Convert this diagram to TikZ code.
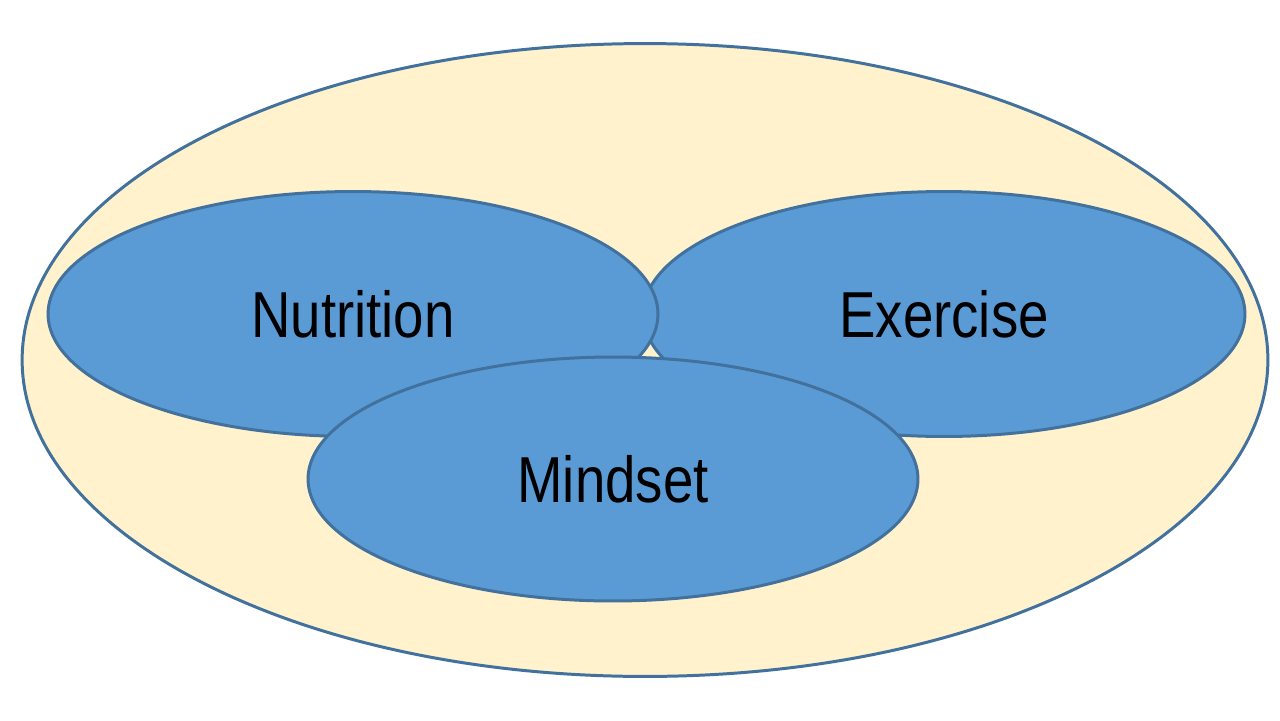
\documentclass[tikz,border=0pt]{standalone}
\usepackage{fontspec}
\setmainfont{Liberation Sans}[FakeStretch=0.84]
\usetikzlibrary{shapes.geometric}
\definecolor{ringfill}{HTML}{FFF2CC}
\definecolor{partfill}{HTML}{5B9BD5}
\definecolor{edge}{HTML}{41719C}
\tikzset{
  whole/.style={ellipse, draw=edge, fill=ringfill, line width=1.7pt,
    minimum width=24.92cm, minimum height=12.66cm, inner sep=0pt},
  part/.style={ellipse, draw=edge, fill=partfill, line width=1.7pt,
    minimum height=4.9cm, inner sep=0pt, font=\fontsize{37}{40}\selectfont},
}
\begin{document}
\begin{tikzpicture}[x=0.02cm, y=-0.02cm]
\useasboundingbox (0,0) rectangle (1280,720);

\node[whole] (health) at (645,360) {};
\node[part, minimum width=12.04cm] (exercise) at (944,314) {Exercise};
\node[part, minimum width=12.2cm] (nutrition) at (353,314) {Nutrition};
\node[part, minimum width=12.2cm, minimum height=4.88cm] (mindset) at (613,479) {Mindset};

\end{tikzpicture}
\end{document}
